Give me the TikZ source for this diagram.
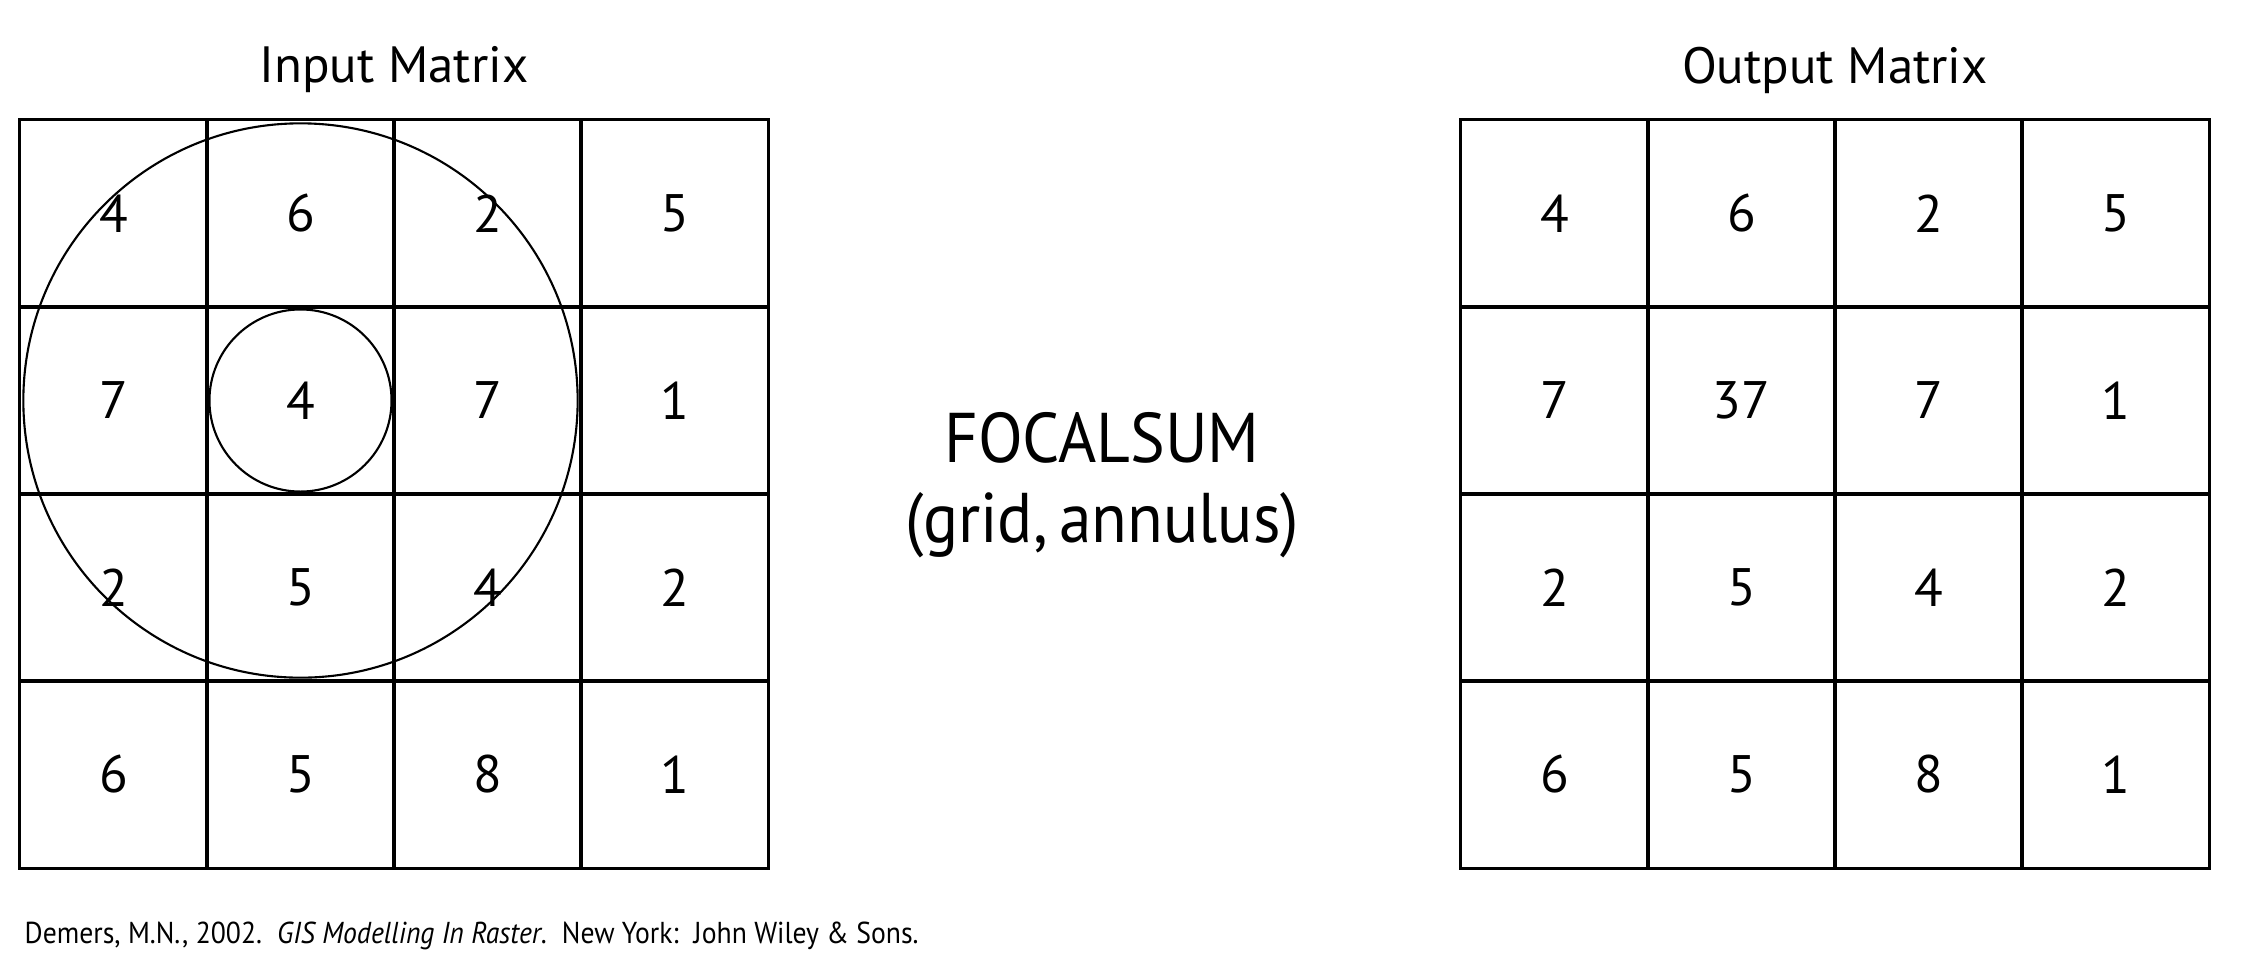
\documentclass[tikz,border=0pt]{standalone}
\usepackage{fontspec}
\setmainfont{PT Sans}
\newfontfamily\citefont[FakeStretch=0.915]{PT Sans}
\newfontfamily\opfont[FakeStretch=0.93]{PT Sans}
\begin{document}
\begin{tikzpicture}[x=0.01cm,y=-0.01cm,
  cell/.style={draw=black,line width=0.85pt,minimum width=1.87cm,minimum height=1.87cm,inner sep=0pt,
    font=\fontsize{15}{18}\selectfont},
  title/.style={font=\fontsize{14.5}{17}\selectfont},
  ring/.style={draw=black,line width=0.6pt},
  op/.style={font=\opfont\fontsize{20}{24}\selectfont,anchor=base}]
\useasboundingbox[fill=white] (0,0) rectangle (2250,960);
% input matrix
\foreach \r/\row in {0/{4,6,2,5},1/{7,4,7,1},2/{2,5,4,2},3/{6,5,8,1}}{
  \foreach \v [count=\c from 0] in \row {
    \node[cell] (in-\r-\c) at ({20+187*(\c+0.5)},{120+187*(\r+0.5)}) {\v};
  }
}
% output matrix
\foreach \r/\row in {0/{4,6,2,5},1/{7,37,7,1},2/{2,5,4,2},3/{6,5,8,1}}{
  \foreach \v [count=\c from 0] in \row {
    \node[cell] (out-\r-\c) at ({1461+187*(\c+0.5)},{120+187*(\r+0.5)}) {\v};
  }
}
% annulus
\node[ring,circle,minimum size=5.54cm,inner sep=0pt] (outer) at (in-1-1.center) {};
\node[ring,circle,minimum size=1.82cm,inner sep=0pt] (inner) at (in-1-1.center) {};
% titles
\node[title] (tin) at (394,70) {Input Matrix};
\node[title] (tout) at (1835,70) {Output Matrix};
\node[op] (focal) at (1102,462) {FOCALSUM};
\node[op] (args) at (1102,542) {(grid,\,annulus)};
\node[anchor=base west,inner sep=0pt,font=\citefont\fontsize{8.6}{11}\selectfont] (cite) at (24,943)
  {Demers, M.N., 2002.\enspace\textit{GIS Modelling In Raster}.\enspace New York:\enspace John Wiley \& Sons.};
\end{tikzpicture}
\end{document}
